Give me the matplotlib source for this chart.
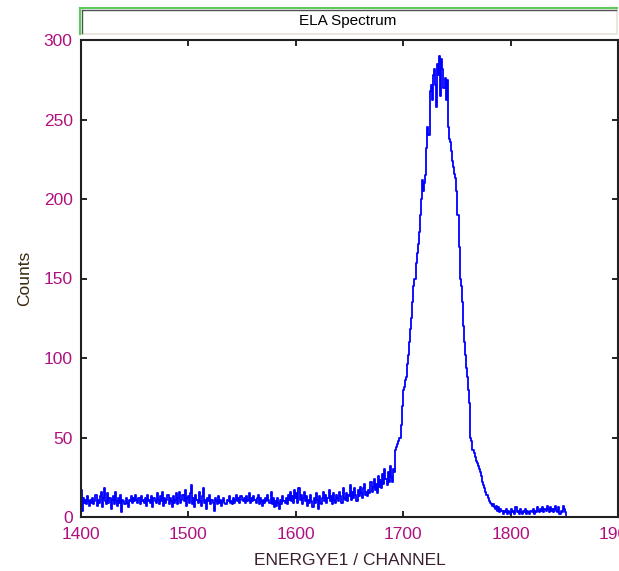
import numpy as np
import matplotlib
matplotlib.use("Agg")
import matplotlib.pyplot as plt
from matplotlib.lines import Line2D
from matplotlib.patches import Rectangle

plt.rcParams['font.family'] = ['Liberation Sans', 'DejaVu Sans']

start_channel = 1400
counts = [
    17, 4, 12, 9, 11, 8, 13, 10, 7, 11,
    9, 12, 8, 10, 14, 7, 11, 9, 13, 16,
    6, 12, 18, 10, 8, 15, 9, 12, 5, 11,
    13, 8, 16, 10, 7, 12, 9, 14, 3, 11,
    10, 8, 12, 9, 6, 11, 10, 13, 9, 12,
    10, 14, 11, 9, 12, 8, 13, 10, 11, 9,
    12, 7, 14, 10, 11, 9, 13, 6, 12, 10,
    9, 15, 11, 8, 13, 10, 16, 7, 12, 9,
    11, 14, 8, 12, 10, 6, 13, 9, 11, 15,
    8, 12, 16, 9, 11, 14, 10, 17, 7, 12,
    13, 9, 15, 20, 8, 12, 6, 14, 11, 9,
    16, 10, 7, 13, 18, 9, 11, 5, 12, 10,
    14, 8, 11, 9, 4, 12, 10, 8, 13, 9,
    11, 7, 10, 12, 9, 8, 11, 10, 13, 9,
    10, 8, 12, 9, 11, 14, 10, 12, 9, 13,
    11, 10, 12, 9, 13, 10, 11, 15, 9, 12,
    10, 13, 11, 9, 12, 14, 8, 12, 10, 7,
    11, 9, 12, 10, 14, 11, 9, 16, 8, 12,
    6, 10, 7, 12, 9, 5, 11, 8, 13, 10,
    9, 12, 8, 14, 11, 16, 10, 13, 9, 17,
    12, 15, 9, 18, 11, 14, 8, 12, 16, 10,
    13, 7, 11, 9, 14, 10, 6, 12, 9, 15,
    11, 5, 13, 9, 8, 12, 16, 10, 14, 9,
    12, 17, 10, 13, 8, 15, 11, 9, 14, 12,
    10, 16, 13, 9, 18, 12, 11, 15, 10, 14,
    13, 20, 11, 16, 12, 18, 14, 10, 17, 13,
    19, 15, 12, 18, 21, 14, 16, 13, 17, 15,
    22, 16, 19, 24, 17, 21, 15, 26, 19, 23,
    18, 27, 21, 30, 24, 20, 28, 22, 32, 25,
    22, 30, 28, 42, 44, 46, 48, 50, 58, 70,
    80, 82, 86, 88, 96, 102, 110, 118, 125, 135,
    145, 150, 160, 166, 172, 179, 190, 200, 212, 205,
    210, 215, 232, 245, 240, 268, 272, 262, 278, 282,
    272, 258, 285, 278, 290, 265, 288, 282, 270, 276,
    262, 275, 245, 238, 236, 230, 224, 220, 216, 213,
    205, 190, 170, 150, 145, 135, 120, 110, 102, 94,
    88, 80, 72, 50, 48, 42, 40, 38, 35, 34,
    32, 30, 28, 26, 22, 20, 18, 16, 14, 12,
    10, 9, 8, 7, 8, 6, 5, 7, 4, 6,
    3, 5, 4, 2, 4, 3, 5, 2, 4, 3,
    2, 5, 3, 4, 2, 6, 3, 4, 2, 5,
    3, 2, 4, 3, 5, 2, 4, 3, 2, 4,
    3, 5, 2, 4, 3, 6, 4, 3, 5, 4,
    6, 3, 5, 4, 7, 5, 3, 6, 4, 5,
    3, 5, 7, 4, 3, 6, 2, 4, 3, 7,
    5, 3, 1,
]
channels = np.arange(start_channel, start_channel + len(counts))

x_ticks = [1400, 1500, 1600, 1700, 1800, 1900]
y_ticks = [0, 50, 100, 150, 200, 250, 300]
title_text = "ELA Spectrum"
x_label = "ENERGYE1 / CHANNEL"
y_label = "Counts"

W, H = 619, 571
fig = plt.figure(figsize=(W / 100, H / 100), dpi=100)
fig.patch.set_facecolor('white')

ax = fig.add_axes([81 / W, 54 / H, 537 / W, 477 / H])
ax.plot(channels, counts, color='#0000FF', linewidth=1.3, drawstyle='steps-mid')
ax.set_xlim(1400, 1900)
ax.set_ylim(0, 300)
ax.set_xticks(x_ticks)
ax.set_yticks(y_ticks)
tick_color = '#B0107F'
ax.tick_params(direction='in', length=4, width=1.2, top=True, right=True,
               labelsize=12.5, labelcolor=tick_color, color='black')
ax.tick_params(axis='x', pad=7)
ax.tick_params(axis='y', pad=6)
for s in ax.spines.values():
    s.set_linewidth(1.5)
    s.set_color('#202020')

ax.set_xlabel(x_label, fontsize=12.5, color='#3A2030', labelpad=8)
ax.set_ylabel(y_label, fontsize=12.5, color='#3A2A10', labelpad=8)

# Title box
x0, x1 = 80 / W, 617 / W
y0, y1 = 1 - 34 / H, 1 - 8 / H
fig.patches.append(Rectangle((x0, y0), x1 - x0, y1 - y0, transform=fig.transFigure,
                             facecolor='white', edgecolor='#E8E2D8', linewidth=1.2))
fig.lines.append(Line2D([x0, x1], [y1, y1], transform=fig.transFigure, color='#5CCB5C', linewidth=1.5))
fig.lines.append(Line2D([x0, x0], [y0, y1], transform=fig.transFigure, color='#5CCB5C', linewidth=1.5))
ix0 = 82 / W
iy1 = 1 - 10 / H
fig.lines.append(Line2D([ix0, x1 - 1 / W], [iy1, iy1], transform=fig.transFigure, color='#505050', linewidth=1.0))
fig.lines.append(Line2D([ix0, ix0], [y0 + 1 / H, iy1], transform=fig.transFigure, color='#505050', linewidth=1.0))
fig.text(348 / W, 1 - 21 / H, title_text, ha='center', va='center', fontsize=11, color='black')

fig.savefig('out.png', dpi=100)
